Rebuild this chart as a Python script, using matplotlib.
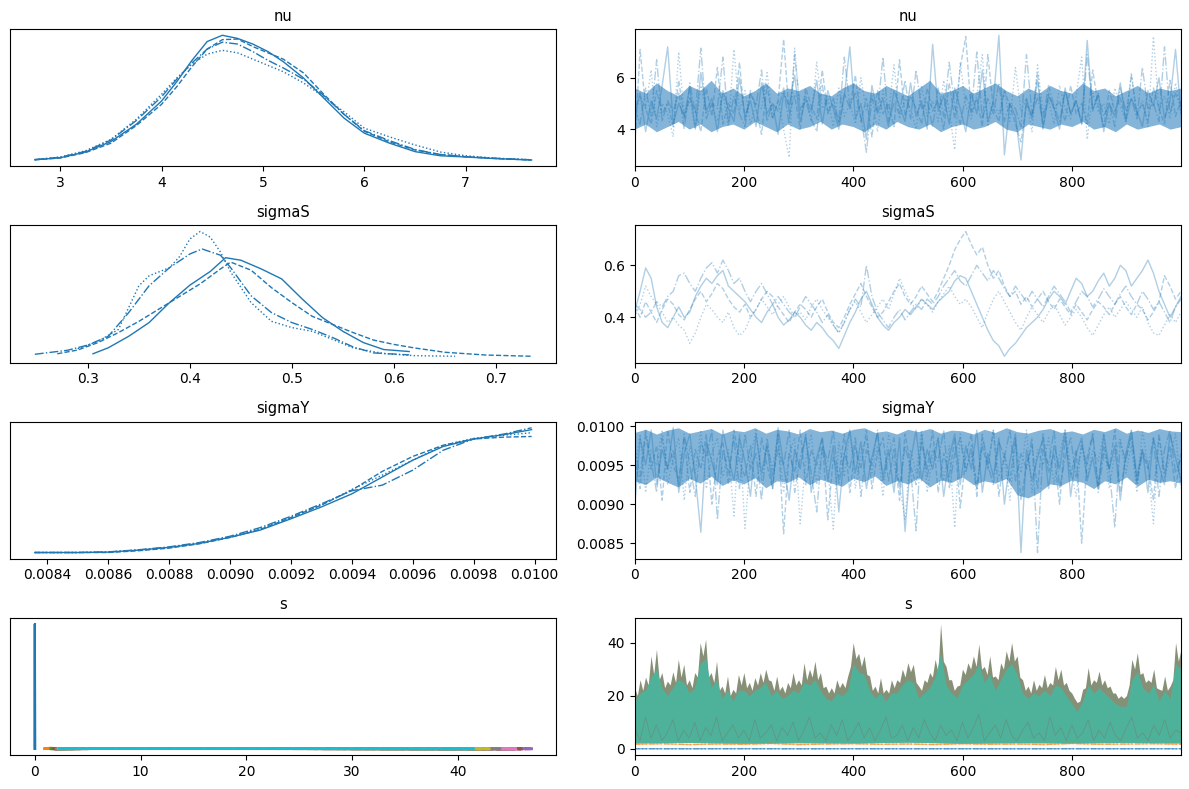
import numpy as np
import matplotlib.pyplot as plt

CHAIN_STYLES = ["-", "--", ":", "-."]
BLUE = "#1f77b4"

# ---- nu: kde per chain (shared grid) ----
nu_grid = [2.75, 3.0, 3.25, 3.5, 3.75, 4.0, 4.15, 4.3, 4.45, 4.6, 4.75, 4.9,
           5.05, 5.2, 5.4, 5.6, 5.8, 6.0, 6.25, 6.5, 6.75, 7.0, 7.3, 7.65]
nu_kde = [
    [0.008, 0.024, 0.07, 0.153, 0.29, 0.476, 0.63, 0.80, 0.95, 1.0, 0.975, 0.93,
     0.87, 0.79, 0.66, 0.50, 0.34, 0.22, 0.14, 0.073, 0.04, 0.03, 0.017, 0.006],
    [0.008, 0.022, 0.065, 0.14, 0.28, 0.45, 0.59, 0.75, 0.89, 0.965, 0.97, 0.91,
     0.86, 0.81, 0.70, 0.53, 0.37, 0.235, 0.15, 0.086, 0.05, 0.032, 0.018, 0.006],
    [0.009, 0.03, 0.08, 0.17, 0.33, 0.53, 0.66, 0.77, 0.85, 0.88, 0.86, 0.81,
     0.76, 0.71, 0.62, 0.51, 0.39, 0.26, 0.19, 0.126, 0.07, 0.04, 0.02, 0.008],
    [0.01, 0.028, 0.075, 0.165, 0.32, 0.51, 0.65, 0.78, 0.89, 0.945, 0.93, 0.87,
     0.80, 0.74, 0.65, 0.52, 0.37, 0.24, 0.16, 0.09, 0.05, 0.033, 0.02, 0.008],
]

# ---- sigmaS: kde per chain (own ranges) ----
sigmaS_kde_x = [
    [0.305, 0.32, 0.34, 0.36, 0.38, 0.40, 0.42, 0.435, 0.45, 0.47, 0.49, 0.51,
     0.53, 0.55, 0.57, 0.59, 0.615],
    [0.27, 0.29, 0.31, 0.33, 0.35, 0.37, 0.39, 0.41, 0.43, 0.44, 0.46, 0.48, 0.50,
     0.52, 0.54, 0.56, 0.58, 0.60, 0.62, 0.65, 0.69, 0.735],
    [0.29, 0.31, 0.33, 0.35, 0.36, 0.38, 0.39, 0.40, 0.41, 0.42, 0.43, 0.44, 0.46,
     0.48, 0.50, 0.52, 0.54, 0.56, 0.59, 0.62, 0.66],
    [0.248, 0.28, 0.30, 0.32, 0.34, 0.36, 0.38, 0.40, 0.412, 0.43, 0.44, 0.46,
     0.48, 0.50, 0.52, 0.54, 0.56, 0.58, 0.615],
]
sigmaS_kde_y = [
    [0.02, 0.068, 0.16, 0.27, 0.43, 0.57, 0.68, 0.79, 0.77, 0.70, 0.62, 0.46,
     0.31, 0.20, 0.11, 0.054, 0.038],
    [0.02, 0.05, 0.11, 0.19, 0.28, 0.38, 0.48, 0.58, 0.70, 0.755, 0.69, 0.55,
     0.43, 0.32, 0.255, 0.19, 0.13, 0.095, 0.067, 0.032, 0.01, 0.0],
    [0.06, 0.12, 0.215, 0.565, 0.645, 0.71, 0.80, 0.94, 1.0, 0.955, 0.835, 0.675,
     0.43, 0.28, 0.23, 0.20, 0.135, 0.067, 0.022, 0.005, 0.0],
    [0.016, 0.048, 0.09, 0.16, 0.35, 0.565, 0.71, 0.82, 0.86, 0.81, 0.71, 0.485,
     0.35, 0.27, 0.215, 0.15, 0.075, 0.027, 0.011],
]

# ---- sigmaY: kde per chain (shared grid) ----
sigmaY_grid = [0.00836, 0.0085, 0.0086, 0.0087, 0.0088, 0.0089, 0.0090, 0.0091,
               0.0092, 0.0093, 0.0094, 0.0095, 0.0096, 0.0097, 0.0098, 0.0099,
               0.00999]
sigmaY_kde = [
    [0.0, 0.0, 0.003, 0.019, 0.041, 0.073, 0.122, 0.18, 0.27, 0.365, 0.47,
     0.605, 0.74, 0.85, 0.91, 0.945, 0.985],
    [0.0, 0.0, 0.0, 0.014, 0.035, 0.07, 0.12, 0.185, 0.28, 0.38, 0.50,
     0.65, 0.77, 0.86, 0.91, 0.925, 0.93],
    [0.0, 0.0, 0.004, 0.02, 0.04, 0.075, 0.125, 0.19, 0.28, 0.38, 0.505,
     0.62, 0.74, 0.86, 0.915, 0.94, 0.96],
    [0.0, 0.0, 0.005, 0.022, 0.045, 0.08, 0.13, 0.2, 0.29, 0.39, 0.495,
     0.54, 0.66, 0.82, 0.91, 0.95, 1.0],
]

# ---- traces (values at evenly spaced draws) ----
nu_trace = [
    [4.6, 5.4, 3.9, 5.1, 4.4, 5.7, 7.2, 4.2, 5.0, 4.5, 5.6, 4.0, 6.2, 4.7, 5.2, 3.9, 5.5, 4.8, 4.3, 6.0,
     4.5, 5.1, 4.1, 5.8, 4.6, 5.0, 3.8, 5.4, 4.9, 6.1, 4.3, 5.2, 4.7, 5.9, 4.2, 5.5, 4.8, 4.0, 5.3, 7.2,
     4.4, 5.0, 3.6, 5.7, 4.6, 5.2, 4.1, 5.5, 4.9, 4.3, 5.8, 4.5, 5.1, 4.0, 7.3, 4.7, 5.3, 4.2, 5.6, 4.8,
     3.9, 5.4, 4.6, 6.3, 4.3, 5.1, 7.65, 3.0, 5.0, 4.5, 2.8, 5.2, 4.4, 5.9, 4.1, 5.3, 4.8, 4.0, 5.6, 4.6,
     5.1, 4.2, 7.45, 4.7, 5.4, 3.9, 5.0, 4.5, 5.8, 4.3, 5.2, 4.7, 4.1, 5.5, 4.9, 6.0, 4.4, 5.1, 7.1, 4.6],
    [3.2, 7.1, 4.8, 4.2, 5.5, 4.6, 5.0, 4.1, 5.9, 4.4, 5.2, 4.7, 3.9, 5.6, 4.5, 6.4, 4.2, 5.0, 4.6, 6.6,
     4.3, 5.4, 4.8, 3.8, 5.7, 4.4, 5.1, 7.5, 4.6, 5.3, 4.0, 5.6, 4.9, 4.4, 6.3, 4.7, 5.0, 4.2, 5.4, 4.8,
     6.1, 4.3, 5.2, 3.7, 5.5, 4.6, 5.0, 4.1, 6.7, 4.5, 5.3, 4.8, 4.2, 5.6, 4.7, 5.1, 4.0, 5.8, 4.4, 6.4,
     7.6, 4.6, 5.2, 4.1, 6.9, 4.8, 4.3, 5.5, 4.9, 4.2, 3.5, 5.0, 4.5, 6.2, 4.0, 5.4, 4.8, 5.1, 4.3, 5.7,
     4.6, 5.0, 4.2, 6.3, 4.9, 4.1, 5.5, 4.7, 5.2, 4.4, 6.1, 4.6, 5.0, 4.3, 5.6, 4.8, 4.2, 5.9, 4.5, 5.1],
    [4.4, 5.3, 4.8, 6.3, 4.1, 5.0, 4.6, 3.7, 7.0, 4.5, 5.2, 4.0, 5.7, 4.6, 4.9, 4.3, 5.4, 4.1, 7.1, 4.7,
     5.5, 4.2, 5.0, 4.8, 6.2, 4.4, 5.1, 4.0, 2.9, 7.15, 4.6, 5.4, 4.3, 6.6, 4.8, 5.2, 4.1, 5.6, 4.5, 5.0,
     4.2, 6.0, 4.7, 5.3, 3.9, 5.5, 4.6, 6.5, 4.4, 5.2, 4.8, 4.0, 5.7, 4.5, 5.1, 4.3, 5.9, 4.7, 3.2, 6.6,
     4.9, 4.4, 5.3, 6.9, 4.1, 5.0, 4.6, 5.5, 4.3, 6.4, 4.7, 5.2, 3.9, 6.5, 4.6, 5.1, 4.2, 5.7, 4.8, 4.4,
     5.3, 6.8, 3.6, 5.4, 4.7, 5.0, 4.2, 5.6, 4.9, 4.3, 6.2, 4.5, 5.1, 4.1, 7.6, 4.7, 5.3, 4.4, 5.8, 4.6],
    [4.8, 4.2, 5.6, 4.5, 6.7, 4.3, 5.1, 4.7, 5.4, 4.0, 5.8, 4.6, 7.15, 4.4, 5.0, 4.8, 6.8, 4.2, 5.3, 4.6,
     4.1, 5.5, 4.9, 6.3, 4.3, 5.0, 4.7, 5.6, 4.2, 6.9, 4.8, 5.1, 4.4, 3.9, 5.7, 4.6, 5.2, 4.3, 6.8, 4.9,
     5.4, 4.5, 3.1, 5.2, 4.7, 6.8, 4.3, 5.0, 4.6, 5.9, 4.4, 6.3, 4.8, 5.1, 4.1, 5.6, 4.5, 6.6, 4.9, 4.2,
     5.3, 4.7, 7.0, 4.4, 5.2, 4.6, 5.8, 4.3, 5.0, 4.8, 4.1, 6.9, 4.6, 5.2, 4.4, 5.7, 4.9, 4.3, 5.5, 4.6,
     5.1, 4.2, 6.9, 4.8, 5.3, 4.5, 5.0, 4.1, 5.6, 4.7, 5.2, 4.4, 6.4, 4.8, 5.0, 4.3, 7.2, 4.6, 5.4, 4.9],
]
# dense central band of the nu trace (where most draws sit)
nu_band_lo = [4.0, 4.2, 3.9, 4.1, 4.3, 4.0, 4.2, 3.9, 4.1, 4.2, 4.0, 4.3, 4.1, 3.9, 4.2, 4.0, 4.1,
              4.3, 4.0, 4.2, 4.1, 3.9, 4.2, 4.0, 4.3, 4.1, 4.0, 4.2, 3.9, 4.1, 4.2, 4.0, 4.1, 4.3,
              4.0, 3.9, 4.2, 4.1, 4.0, 4.2, 4.1, 4.3, 4.0, 4.1, 3.9, 4.2, 4.0, 4.1, 4.2, 4.0, 4.1]
nu_band_hi = [5.6, 5.4, 5.8, 5.5, 5.3, 5.7, 5.5, 5.9, 5.4, 5.6, 5.3, 5.5, 5.8, 5.4, 5.6, 5.5, 5.7,
              5.4, 5.3, 5.6, 5.8, 5.5, 5.4, 5.7, 5.5, 5.3, 5.6, 5.9, 5.4, 5.5, 5.7, 5.4, 5.6, 5.8,
              5.5, 5.3, 5.6, 5.4, 5.7, 5.5, 5.4, 5.8, 5.5, 5.6, 5.3, 5.5, 5.7, 5.4, 5.6, 5.5, 5.6]

sigmaS_trace = [
    [0.42, 0.50, 0.59, 0.55, 0.44, 0.38, 0.36, 0.40, 0.44, 0.40, 0.42, 0.48, 0.52, 0.55, 0.53, 0.56, 0.58, 0.52, 0.50, 0.48,
     0.46, 0.43, 0.40, 0.38, 0.42, 0.45, 0.40, 0.37, 0.39, 0.42, 0.40, 0.37, 0.35, 0.38, 0.36, 0.33, 0.31, 0.28, 0.33, 0.38,
     0.42, 0.47, 0.50, 0.45, 0.40, 0.37, 0.35, 0.38, 0.40, 0.43, 0.41, 0.44, 0.47, 0.45, 0.43, 0.46, 0.48, 0.50, 0.54, 0.56,
     0.55, 0.50, 0.45, 0.40, 0.35, 0.31, 0.29, 0.25, 0.28, 0.30, 0.33, 0.36, 0.38, 0.40, 0.43, 0.47, 0.50, 0.48, 0.45, 0.50,
     0.55, 0.53, 0.48, 0.50, 0.54, 0.57, 0.52, 0.55, 0.60, 0.58, 0.52, 0.55, 0.58, 0.62, 0.57, 0.50, 0.45, 0.40, 0.44, 0.48],
    [0.44, 0.40, 0.46, 0.42, 0.38, 0.43, 0.47, 0.45, 0.41, 0.39, 0.43, 0.47, 0.50, 0.46, 0.49, 0.53, 0.51, 0.47, 0.44, 0.42,
     0.45, 0.40, 0.43, 0.47, 0.50, 0.48, 0.44, 0.41, 0.38, 0.42, 0.45, 0.43, 0.40, 0.44, 0.47, 0.42, 0.38, 0.36, 0.40, 0.45,
     0.49, 0.53, 0.48, 0.44, 0.40, 0.42, 0.46, 0.50, 0.53, 0.48, 0.45, 0.48, 0.52, 0.49, 0.46, 0.50, 0.55, 0.60, 0.66, 0.70,
     0.73, 0.68, 0.64, 0.67, 0.60, 0.55, 0.58, 0.52, 0.48, 0.50, 0.45, 0.48, 0.44, 0.47, 0.50, 0.46, 0.43, 0.47, 0.44, 0.41,
     0.45, 0.42, 0.39, 0.43, 0.46, 0.44, 0.41, 0.45, 0.48, 0.44, 0.41, 0.45, 0.43, 0.39, 0.42, 0.46, 0.56, 0.52, 0.47, 0.50],
    [0.40, 0.45, 0.52, 0.48, 0.45, 0.42, 0.38, 0.40, 0.37, 0.35, 0.30, 0.34, 0.40, 0.45, 0.43, 0.40, 0.38, 0.42, 0.36, 0.33,
     0.35, 0.40, 0.43, 0.47, 0.44, 0.41, 0.45, 0.48, 0.44, 0.40, 0.42, 0.39, 0.44, 0.47, 0.43, 0.40, 0.37, 0.34, 0.38, 0.43,
     0.46, 0.42, 0.38, 0.41, 0.44, 0.47, 0.43, 0.49, 0.55, 0.50, 0.46, 0.43, 0.47, 0.45, 0.42, 0.46, 0.49, 0.52, 0.48, 0.45,
     0.47, 0.44, 0.40, 0.36, 0.42, 0.47, 0.50, 0.46, 0.42, 0.38, 0.35, 0.40, 0.44, 0.41, 0.38, 0.42, 0.45, 0.41, 0.37, 0.40,
     0.43, 0.40, 0.36, 0.33, 0.37, 0.41, 0.44, 0.40, 0.43, 0.46, 0.43, 0.40, 0.44, 0.38, 0.34, 0.33, 0.37, 0.41, 0.38, 0.42],
    [0.45, 0.43, 0.40, 0.42, 0.46, 0.44, 0.48, 0.50, 0.56, 0.57, 0.53, 0.50, 0.55, 0.59, 0.61, 0.57, 0.62, 0.58, 0.53, 0.55,
     0.50, 0.46, 0.50, 0.53, 0.49, 0.45, 0.48, 0.45, 0.42, 0.40, 0.44, 0.48, 0.45, 0.42, 0.38, 0.41, 0.37, 0.34, 0.38, 0.43,
     0.47, 0.44, 0.60, 0.48, 0.42, 0.39, 0.36, 0.40, 0.43, 0.39, 0.42, 0.45, 0.43, 0.47, 0.45, 0.48, 0.52, 0.55, 0.58, 0.54,
     0.52, 0.56, 0.60, 0.57, 0.54, 0.58, 0.55, 0.51, 0.48, 0.52, 0.49, 0.46, 0.50, 0.47, 0.44, 0.48, 0.52, 0.49, 0.46, 0.42,
     0.46, 0.50, 0.48, 0.44, 0.47, 0.51, 0.48, 0.45, 0.49, 0.52, 0.48, 0.45, 0.50, 0.47, 0.43, 0.46, 0.42, 0.38, 0.44, 0.47],
]

sigmaY_trace = [
    [0.00895, 0.00985, 0.00950, 0.00995, 0.00925, 0.00970, 0.00945, 0.00998, 0.00915, 0.00965,
     0.00990, 0.00935, 0.00864, 0.00980, 0.00955, 0.00925, 0.00995, 0.00960, 0.00930, 0.00985,
     0.00955, 0.00910, 0.00990, 0.00940, 0.00975, 0.00920, 0.00998, 0.00950, 0.00905, 0.00970,
     0.00945, 0.00990, 0.00915, 0.00960, 0.00985, 0.00930, 0.00975, 0.00890, 0.00965, 0.00995,
     0.00940, 0.00980, 0.00920, 0.00960, 0.00990, 0.00935, 0.00970, 0.00915, 0.00985, 0.00865,
     0.00955, 0.00995, 0.00930, 0.00970, 0.00945, 0.00985, 0.00910, 0.00960, 0.00990, 0.00925,
     0.00975, 0.00945, 0.00995, 0.00915, 0.00965, 0.00935, 0.00985, 0.00900, 0.00955, 0.00990,
     0.00838, 0.00970, 0.00930, 0.00960, 0.00985, 0.00920, 0.00975, 0.00945, 0.00995, 0.00910,
     0.00965, 0.00985, 0.00930, 0.00960, 0.00920, 0.00990, 0.00945, 0.00975, 0.00905, 0.00965,
     0.00995, 0.00935, 0.00970, 0.00915, 0.00985, 0.00950, 0.00925, 0.00990, 0.00960, 0.00930],
    [0.00960, 0.00920, 0.00990, 0.00945, 0.00975, 0.00905, 0.00995, 0.00950, 0.00930, 0.00985,
     0.00915, 0.00970, 0.00945, 0.00990, 0.00900, 0.00960, 0.00980, 0.00925, 0.00995, 0.00955,
     0.00935, 0.00975, 0.00910, 0.00985, 0.00950, 0.00920, 0.00990, 0.00862, 0.00965, 0.00940,
     0.00995, 0.00925, 0.00970, 0.00950, 0.00985, 0.00880, 0.00960, 0.00935, 0.00990, 0.00915,
     0.00975, 0.00945, 0.00995, 0.00920, 0.00965, 0.00985, 0.00930, 0.00970, 0.00905, 0.00990,
     0.00950, 0.00925, 0.00980, 0.00945, 0.00995, 0.00915, 0.00965, 0.00935, 0.00985, 0.00895,
     0.00960, 0.00990, 0.00920, 0.00975, 0.00945, 0.00995, 0.00910, 0.00965, 0.00930, 0.00985,
     0.00905, 0.00950, 0.00975, 0.00920, 0.00990, 0.00940, 0.00965, 0.00900, 0.00985, 0.00935,
     0.00970, 0.00850, 0.00960, 0.00990, 0.00925, 0.00975, 0.00945, 0.00995, 0.00915, 0.00960,
     0.00985, 0.00930, 0.00970, 0.00950, 0.00905, 0.00990, 0.00940, 0.00975, 0.00920, 0.00965],
    [0.00940, 0.00990, 0.00915, 0.00970, 0.00950, 0.00995, 0.00925, 0.00960, 0.00985, 0.00905,
     0.00975, 0.00940, 0.00995, 0.00920, 0.00965, 0.00985, 0.00935, 0.00970, 0.00885, 0.00990,
     0.00869, 0.00960, 0.00995, 0.00930, 0.00975, 0.00945, 0.00990, 0.00915, 0.00965, 0.00985,
     0.00875, 0.00955, 0.00990, 0.00925, 0.00970, 0.00945, 0.00868, 0.00980, 0.00935, 0.00995,
     0.00920, 0.00965, 0.00985, 0.00940, 0.00975, 0.00910, 0.00990, 0.00950, 0.00925, 0.00880,
     0.00970, 0.00940, 0.00995, 0.00915, 0.00960, 0.00985, 0.00930, 0.00975, 0.00870, 0.00990,
     0.00945, 0.00965, 0.00920, 0.00985, 0.00950, 0.00995, 0.00935, 0.00960, 0.00905, 0.00980,
     0.00940, 0.00995, 0.00915, 0.00970, 0.00950, 0.00985, 0.00925, 0.00965, 0.00995, 0.00945,
     0.00910, 0.00980, 0.00935, 0.00970, 0.00955, 0.00990, 0.00920, 0.00965, 0.00985, 0.00940,
     0.00975, 0.00915, 0.00995, 0.00950, 0.00875, 0.00985, 0.00935, 0.00960, 0.00990, 0.00920],
    [0.00975, 0.00935, 0.00995, 0.00955, 0.00915, 0.00985, 0.00945, 0.00970, 0.00925, 0.00990,
     0.00950, 0.00910, 0.00980, 0.00960, 0.00995, 0.00880, 0.00970, 0.00940, 0.00985, 0.00920,
     0.00990, 0.00945, 0.00965, 0.00905, 0.00985, 0.00935, 0.00970, 0.00950, 0.00995, 0.00915,
     0.00960, 0.00985, 0.00940, 0.00890, 0.00975, 0.00955, 0.00995, 0.00925, 0.00965, 0.00945,
     0.00985, 0.00910, 0.00970, 0.00950, 0.00995, 0.00930, 0.00960, 0.00985, 0.00920, 0.00975,
     0.00945, 0.00866, 0.00990, 0.00935, 0.00970, 0.00955, 0.00995, 0.00920, 0.00965, 0.00985,
     0.00940, 0.00975, 0.00910, 0.00990, 0.00950, 0.00925, 0.00980, 0.00960, 0.00995, 0.00930,
     0.00965, 0.00945, 0.00985, 0.00838, 0.00970, 0.00950, 0.00995, 0.00920, 0.00960, 0.00985,
     0.00935, 0.00975, 0.00950, 0.00990, 0.00915, 0.00965, 0.00945, 0.00870, 0.00980, 0.00955,
     0.00995, 0.00925, 0.00965, 0.00945, 0.00985, 0.00910, 0.00970, 0.00995, 0.00940, 0.00960],
]
sigmaY_band_lo = [0.00930, 0.00925, 0.00935, 0.00928, 0.00922, 0.00933, 0.00927, 0.00936, 0.00924,
                  0.00931, 0.00926, 0.00934, 0.00921, 0.00930, 0.00928, 0.00935, 0.00925, 0.00932,
                  0.00927, 0.00923, 0.00933, 0.00929, 0.00936, 0.00924, 0.00930, 0.00926, 0.00934,
                  0.00922, 0.00931, 0.00928, 0.00935, 0.00925, 0.00930, 0.00927, 0.00933, 0.00912,
                  0.00908, 0.00915, 0.00926, 0.00924, 0.00931, 0.00928, 0.00920, 0.00930, 0.00926,
                  0.00935, 0.00923, 0.00932, 0.00928, 0.00930, 0.00927]
sigmaY_band_hi = [0.00992, 0.00996, 0.00990, 0.00995, 0.00998, 0.00991, 0.00994, 0.00997, 0.00990,
                  0.00995, 0.00993, 0.00998, 0.00991, 0.00996, 0.00994, 0.00990, 0.00997, 0.00993,
                  0.00995, 0.00991, 0.00996, 0.00998, 0.00992, 0.00994, 0.00990, 0.00996, 0.00993,
                  0.00997, 0.00991, 0.00995, 0.00994, 0.00990, 0.00996, 0.00992, 0.00998, 0.00993,
                  0.00991, 0.00995, 0.00997, 0.00992, 0.00994, 0.00990, 0.00996, 0.00993, 0.00998,
                  0.00991, 0.00995, 0.00992, 0.00997, 0.00994, 0.00993]

# ---- s: vector variable, one colour per element ----
s0_kde_x = [-0.01, 0.0, 0.01]
s0_kde_y = [0.0, 48.0, 0.0]
s_kde_x = [
    [0.9, 1.2, 1.5, 1.8, 2.0],
    [1.5, 8, 16, 24, 32, 40, 45.0],
    [1.8, 8, 16, 24, 32, 40, 46.5],
    [2.0, 8, 16, 24, 32, 40, 47.0],
    [1.9, 8, 16, 24, 32, 40, 46.0],
    [2.1, 8, 16, 24, 32, 40, 45.5],
    [2.0, 8, 16, 24, 32, 40, 44.0],
    [2.2, 8, 16, 24, 32, 40, 43.0],
    [2.3, 8, 16, 24, 32, 38, 41.5],
]
s_kde_y = [
    [0.05, 0.15, 0.18, 0.12, 0.05],
    [0.02, 0.09, 0.08, 0.06, 0.04, 0.02, 0.01],
    [0.02, 0.08, 0.08, 0.06, 0.04, 0.02, 0.01],
    [0.02, 0.09, 0.07, 0.05, 0.04, 0.02, 0.01],
    [0.02, 0.08, 0.08, 0.06, 0.03, 0.02, 0.01],
    [0.02, 0.09, 0.08, 0.05, 0.03, 0.02, 0.01],
    [0.02, 0.08, 0.07, 0.06, 0.04, 0.02, 0.01],
    [0.02, 0.09, 0.08, 0.05, 0.03, 0.02, 0.01],
    [0.03, 0.10, 0.09, 0.06, 0.04, 0.02, 0.01],
]

s0_trace = [0.02, 0.01, 0.03, 0.0, 0.02, 0.01, 0.02, 0.0, 0.03, 0.01, 0.02]
s1_trace = [1.7, 1.9, 1.6, 1.8, 1.7, 2.0, 1.6, 1.8, 1.9, 1.7, 1.8,
            1.6, 1.9, 1.7, 1.8, 1.6, 2.0, 1.7, 1.8, 1.9, 1.7]
s_top = [23, 20, 26, 22, 27, 24, 35, 28, 37.5, 26, 28.7, 23, 25.5, 24, 29, 25, 33.7, 27, 31.8, 24,
         26, 23, 28.7, 27, 40, 35, 41.3, 27, 28.7, 25, 33, 22, 23.6, 21, 27.4, 20, 22.4, 21, 28, 24,
         28.7, 23, 25, 22, 26.8, 24, 28.7, 25, 30, 26, 25.5, 22, 27.4, 22, 23.6, 21, 25, 23, 28.7, 24,
         26, 24, 32.4, 26, 30, 27, 33, 26, 28.7, 23, 23.6, 21, 23, 21, 26, 23, 25, 23, 27.4, 31,
         40, 34, 36, 31, 35, 28, 27.4, 22, 23.6, 21, 26.8, 21, 22.4, 21, 26, 23, 26, 25, 30, 27,
         32.4, 29, 31.8, 25, 23.6, 22, 26, 25, 28.7, 27, 33.7, 29, 47, 33, 31, 26, 26, 22, 23.6, 24,
         30, 28, 32.4, 30, 35, 31, 39.4, 30, 31, 28, 35, 27, 27.4, 26, 32.4, 30, 36.9, 33, 40, 33,
         35, 27, 26, 22, 23.6, 21, 26, 22, 24.3, 23, 28, 23, 25, 24, 31, 26, 30, 24, 25, 22,
         21, 19, 17.4, 18, 22.4, 23, 30.6, 24, 26, 25, 29.3, 24, 26, 23, 23.6, 21, 21, 19, 20, 19,
         20, 24, 33.7, 30, 36.2, 28, 28.7, 25, 26, 25, 30, 23, 22.4, 22, 27.4, 22, 23.6, 26, 40, 33,
         37.5]
s_core = [18, 21, 22, 27, 30, 23, 20, 23, 26, 25, 21, 23, 32, 34, 23, 26, 19, 22, 18, 22,
          22, 20, 22, 23, 25, 20, 22, 19, 20, 22, 21, 25, 24, 26, 22, 19, 18, 21, 20, 22,
          32, 29, 28, 22, 19, 21, 18, 21, 21, 24, 26, 25, 19, 21, 23, 27, 36, 24, 21, 19,
          24, 26, 28, 32, 25, 28, 22, 26, 30, 32, 28, 21, 19, 21, 20, 22, 20, 24, 23, 20,
          17, 14, 18, 24, 21, 23, 21, 19, 17, 16, 16, 26, 29, 23, 21, 24, 18, 22, 19, 32,
          30]
s_floor = [2.2, 2.4, 2.1, 2.3, 2.2, 2.5, 2.1, 2.3, 2.2, 2.4, 2.2]
s_low = [8, 3, 12, 4, 9, 3, 6, 11, 3, 7, 4, 10, 3, 8, 5, 12, 3, 6, 9, 4,
         7, 3, 11, 4, 6, 9, 3, 8, 5, 10, 3, 7, 12, 4, 6, 3, 9, 5, 11, 3,
         6, 10, 4, 8, 3, 7, 12, 4, 5, 9, 3, 8, 4, 11, 6, 3, 9, 5, 7, 3,
         10, 4, 8, 13, 3, 6, 9, 4, 11, 5, 3, 7, 10, 4, 6, 3, 12, 5, 8, 3,
         9, 4, 6, 11, 3, 7, 4, 10, 5, 3, 8, 12, 4, 6, 3, 9, 5, 11, 4, 7,
         6]

N_DRAWS = 1000
TICK_SIZE = 10
TITLE_SIZE = 10.5


def draws(values):
    return np.linspace(0, N_DRAWS - 1, len(values))


def style_kde(ax, title):
    ax.set_title(title, fontsize=TITLE_SIZE)
    ax.set_yticks([])
    ax.tick_params(labelsize=TICK_SIZE)


def style_trace(ax, title):
    ax.set_title(title, fontsize=TITLE_SIZE)
    ax.set_xlim(0, N_DRAWS - 1)
    ax.set_xticks([0, 200, 400, 600, 800])
    ax.tick_params(labelsize=TICK_SIZE)


def plot_scalar(ax_kde, ax_trace, title, kde_x, kde_y, trace, band=None):
    for i, ys in enumerate(kde_y):
        xs = kde_x[i] if isinstance(kde_x[0], list) else kde_x
        ax_kde.plot(xs, ys, color=BLUE, lw=1.0, ls=CHAIN_STYLES[i])
    if band is not None:
        lo, hi = band
        ax_trace.fill_between(draws(lo), lo, hi, color="#5b9bcc", lw=0, alpha=0.75)
    for i, vals in enumerate(trace):
        ax_trace.plot(draws(vals), vals, color=BLUE, lw=1.0, alpha=0.35,
                      ls=CHAIN_STYLES[i])
    style_kde(ax_kde, title)
    style_trace(ax_trace, title)


def plot_s(ax_kde, ax_trace):
    for ls in CHAIN_STYLES:
        ax_kde.plot(s0_kde_x, s0_kde_y, color="C0", lw=1.5, ls="-")
    for i, xs in enumerate(s_kde_x):
        for ls in CHAIN_STYLES:
            ax_kde.plot(xs, s_kde_y[i], color=f"C{i + 1}", lw=2.0, ls=ls)
    style_kde(ax_kde, "s")

    floor_top = np.interp(draws(s_top), draws(s_floor), s_floor)
    floor_core = np.interp(draws(s_core), draws(s_floor), s_floor)
    ax_trace.fill_between(draws(s_top), floor_top, s_top, color="#808a70", lw=0, alpha=0.95)
    ax_trace.fill_between(draws(s_core), floor_core, s_core, color="#48b6a0", lw=0, alpha=0.9)
    ax_trace.plot(draws(s_low), s_low, color="C5", lw=0.6, alpha=0.3)
    for ls in CHAIN_STYLES:
        ax_trace.plot(draws(s1_trace), s1_trace, color="C1", lw=1.0, alpha=0.35, ls=ls)
        ax_trace.plot(draws(s0_trace), s0_trace, color="C0", lw=1.0, alpha=0.35, ls=ls)
    style_trace(ax_trace, "s")


def main():
    fig, axes = plt.subplots(4, 2, figsize=(11.89, 7.89), dpi=100)
    fig.subplots_adjust(left=0.0084, right=0.9933, top=0.9632, bottom=0.0431,
                        hspace=0.43, wspace=0.143)
    plot_scalar(axes[0, 0], axes[0, 1], "nu", nu_grid, nu_kde, nu_trace,
                band=(nu_band_lo, nu_band_hi))
    plot_scalar(axes[1, 0], axes[1, 1], "sigmaS", sigmaS_kde_x, sigmaS_kde_y, sigmaS_trace)
    plot_scalar(axes[2, 0], axes[2, 1], "sigmaY", sigmaY_grid, sigmaY_kde, sigmaY_trace,
                band=(sigmaY_band_lo, sigmaY_band_hi))
    plot_s(axes[3, 0], axes[3, 1])
    fig.savefig("out.png", dpi=100)


if __name__ == "__main__":
    main()
